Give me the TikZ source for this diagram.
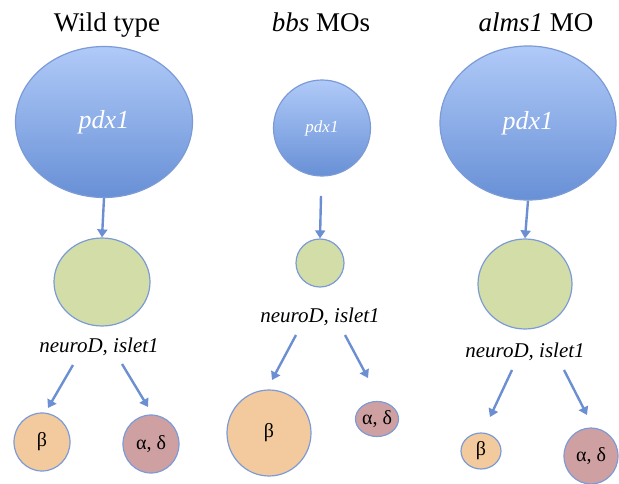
\documentclass[tikz,border=0pt]{standalone}
\usepackage{fontspec}
\setmainfont{Liberation Serif}
\usetikzlibrary{shapes.geometric,arrows.meta}
\definecolor{bluetop}{HTML}{B0CAF8}
\definecolor{bluebot}{HTML}{6890D6}
\definecolor{edgec}{HTML}{7C9BD6}
\definecolor{greenf}{HTML}{D2DDA8}
\definecolor{betaf}{HTML}{F2CA9E}
\definecolor{alphaf}{HTML}{CFA0A2}
\definecolor{arrowc}{HTML}{6B8FD2}
\begin{document}
\begin{tikzpicture}[x=1pt,y=-1pt,
  blob/.style={ellipse, draw=edgec, line width=1.2pt, inner sep=0pt},
  pdxblob/.style={blob, top color=bluetop, bottom color=bluebot, text=white, font=\itshape\fontsize{26}{28}\selectfont},
  greenblob/.style={blob, fill=greenf},
  betablob/.style={blob, fill=betaf, font=\fontsize{20}{22}\selectfont},
  alphablob/.style={blob, fill=alphaf, font=\fontsize{20}{22}\selectfont},
  title/.style={anchor=base, font=\fontsize{27}{30}\selectfont},
  gene/.style={anchor=base, font=\itshape\fontsize{21}{24}\selectfont},
  arr/.style={draw=arrowc, line width=2.4pt, -{Triangle[length=8pt,width=10pt]}}
]
\useasboundingbox (0,0) rectangle (619,484);
% titles
\node[title] (t1) at (107,32) {Wild type};
\node[title] (t2) at (321,32) {\textit{bbs} MOs};
\node[title] (t3) at (536,32) {\textit{alms1} MO};

% Wild type
\node[pdxblob, minimum width=177pt, minimum height=151pt] (wp) at (104,122) {pdx1};
\node[greenblob, minimum width=96pt, minimum height=88pt] (wg) at (102,282) {};
\node[gene] (wn) at (99,352) {neuroD, islet1};
\node[betablob, minimum width=56pt, minimum height=58pt] (wb) at (42,442) {β};
\node[alphablob, minimum width=56pt, minimum height=58pt] (wa) at (151,444) {α, δ};
\coordinate (wl0) at (73,365); \coordinate (wl1) at (48,408);
\coordinate (wr0) at (122,364); \coordinate (wr1) at (148,407);
\draw[arr] (wp.south) -- (wg.north);
\draw[arr] (wl0) -- (wl1);
\draw[arr] (wr0) -- (wr1);

% bbs MOs
\node[pdxblob, minimum width=97pt, minimum height=96pt, font=\itshape\fontsize{17}{19}\selectfont] (bp) at (322,128) {pdx1};
\coordinate (bt0) at (321,196);
\node[greenblob, minimum width=48pt, minimum height=48pt] (bg) at (320,263) {};
\node[gene] (bn) at (320,322) {neuroD, islet1};
\node[betablob, minimum width=84pt, minimum height=86pt] (bb) at (269,433) {β};
\node[alphablob, minimum width=43pt, minimum height=35pt] (ba) at (377,419) {α, δ};
\coordinate (bl0) at (296,335); \coordinate (bl1) at (272,380);
\coordinate (br0) at (345,335); \coordinate (br1) at (368,378);
\draw[arr] (bt0) -- (bg.north);
\draw[arr] (bl0) -- (bl1);
\draw[arr] (br0) -- (br1);

% alms1 MO
\node[pdxblob, minimum width=176pt, minimum height=154pt] (ap) at (528,123) {pdx1};
\node[greenblob, minimum width=94pt, minimum height=90pt] (ag) at (525,284) {};
\node[gene] (an) at (525,357) {neuroD, islet1};
\node[betablob, minimum width=40pt, minimum height=36pt] (ab) at (481,451) {β};
\node[alphablob, minimum width=54pt, minimum height=56pt] (aa) at (591,456) {α, δ};
\coordinate (al0) at (512,370); \coordinate (al1) at (490,417);
\coordinate (ar0) at (564,370); \coordinate (ar1) at (587,415);
\draw[arr] (ap.south) -- (ag.north);
\draw[arr] (al0) -- (al1);
\draw[arr] (ar0) -- (ar1);
\end{tikzpicture}
\end{document}
